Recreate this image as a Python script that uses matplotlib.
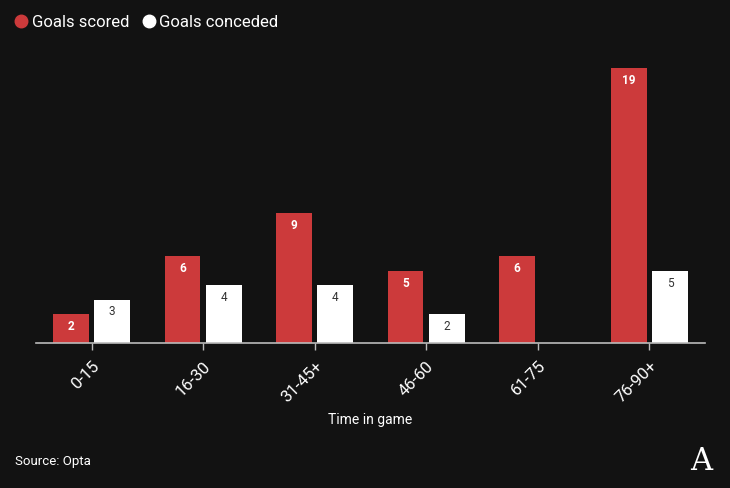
import matplotlib
matplotlib.use('Agg')
import matplotlib.pyplot as plt
from matplotlib.lines import Line2D
import numpy as np

plt.rcParams['font.family'] = ['Roboto', 'DejaVu Sans']

# Dados
periods = ['0-15', '16-30', '31-45+', '46-60', '61-75', '76-90+']
scored = [2, 6, 9, 5, 6, 19]
conceded = [3, 4, 4, 2, 0, 5]

bg = '#121212'
red = '#cc3a3b'
white = '#ffffff'

fig = plt.figure(figsize=(7.3, 4.88), dpi=100, facecolor=bg)
ax = fig.add_axes([0.049, 0.297, 0.917, 0.593], facecolor=bg)

x = np.arange(len(periods))
w = 0.32
off = 0.185
ax.bar(x - off, scored, w, color=red)
ax.bar(x + off, conceded, w, color=white)

# Rótulos dentro das barras
for xi, v in zip(x, scored):
    if v > 0:
        ax.text(xi - off, v - 0.4, str(v), ha='center', va='top', color='white',
                fontsize=8.5, fontweight='bold')
for xi, v in zip(x, conceded):
    if v > 0:
        ax.text(xi + off, v - 0.4, str(v), ha='center', va='top', color='#333333',
                fontsize=8.5)

ax.set_xlim(-0.5, 5.5)
ax.set_ylim(0, 20)
ax.set_yticks([])
for s in ['top', 'right', 'left']:
    ax.spines[s].set_visible(False)
ax.spines['bottom'].set_color('#bbbbbb')
ax.spines['bottom'].set_linewidth(1.2)
ax.set_xticks(x)
ax.set_xticklabels(periods, rotation=45, ha='right', rotation_mode='anchor',
                   color='white', fontsize=12)
ax.tick_params(axis='x', colors='#bbbbbb', length=5, width=1, labelcolor='white', pad=6)

fig.text(0.507, 0.139, 'Time in game', color='white', fontsize=10, ha='center', va='center')
fig.text(0.021, 0.055, 'Source: Opta', color='white', fontsize=9.5, ha='left', va='center')
fig.text(0.96, 0.055, 'A', color='white', fontsize=22, ha='center', va='center',
         family='DejaVu Serif')

handles = [
    Line2D([], [], marker='o', linestyle='none', color=red, markersize=9),
    Line2D([], [], marker='o', linestyle='none', color=white, markersize=9),
]
leg = fig.legend(handles, ['Goals scored', 'Goals conceded'], loc='upper left',
                 bbox_to_anchor=(-0.004, 1.0), ncol=2, frameon=False, fontsize=12,
                 handletextpad=0.1, columnspacing=0.6, handlelength=1.1,
                 labelcolor='white')

fig.savefig('out.png', dpi=100, facecolor=bg)
